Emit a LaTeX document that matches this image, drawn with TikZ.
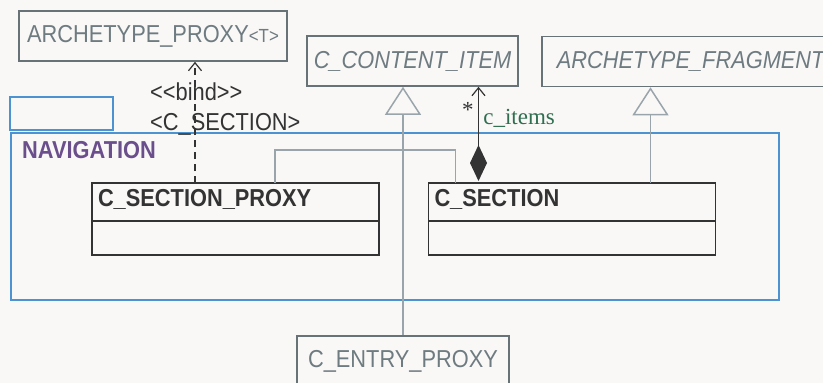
\documentclass[tikz,border=0pt]{standalone}
\usepackage{fontspec}
\usepackage{tikz}
\usetikzlibrary{arrows.meta,positioning,calc}

\newfontfamily\umlsans[FakeStretch=0.89]{Liberation Sans}
\newfontfamily\umlserif{Liberation Serif}
\newcommand\umlbig{\umlsans\fontsize{24.5}{28}\selectfont}
\newcommand\umlsmall{\umlsans\fontsize{19}{22}\selectfont}
\newcommand\umlrole{\umlserif\fontsize{23}{26}\selectfont}

\definecolor{paper}{HTML}{F9F8F7}
\definecolor{outline}{HTML}{687378}
\definecolor{outtext}{HTML}{6E7B80}
\definecolor{dark}{HTML}{333333}
\definecolor{pkgblue}{HTML}{4B93D1}
\definecolor{pkgname}{HTML}{6B4E8C}
\definecolor{genline}{HTML}{9AA5AB}
\definecolor{rolegreen}{HTML}{2F6E4F}

\tikzset{
  outer box/.style={draw=outline, line width=1.6pt, minimum height=50pt,
    font=\umlbig, text=outtext},
  class head/.style={draw=dark, line width=1.2pt, outer sep=0pt,
    text width=275pt, inner xsep=6pt, align=left, minimum height=38pt,
    text height=18pt, text depth=9pt, font=\umlbig\bfseries, text=dark},
  class body/.style={draw=dark, line width=1.2pt, outer sep=0pt,
    minimum width=287pt, minimum height=34pt},
  pkg box/.style={draw=pkgblue, line width=1.6pt},
  gen/.style={draw=genline, line width=1.5pt,
    -{Triangle[open, length=28pt, width=36pt, line width=1.5pt]}},
  gen tree/.style={draw=genline, line width=1.5pt},
  bind/.style={draw=dark, line width=1.6pt, dash pattern=on 7pt off 5pt,
    -{Straight Barb[length=8pt, width=13pt, line width=1.2pt]}},
  comp/.style={draw=dark, line width=1.6pt,
    {Diamond[length=36pt, width=17pt]}-{Straight Barb[length=8pt, width=13pt, line width=1.2pt]}}
}

\begin{document}
\begin{tikzpicture}[x=1pt, y=-1pt]
\clip (0,0) rectangle (823,383);
\fill [paper] (0,0) rectangle (823,383);

% classes outside the package
\node [outer box, minimum width=268pt] (archproxy) at (153,36)
  {ARCHETYPE\_PROXY{\umlsmall<T>}};
\node [outer box, minimum width=211pt, font=\umlbig\itshape] (ccontent) at (412.5,61)
  {C\_CONTENT\_ITEM};
\node [outer box, anchor=west, text width=285pt, inner xsep=15pt, align=left,
  font=\umlbig\itshape] (archfrag) at (541,61.5) {ARCHETYPE\_FRAGMENT};
\node [outer box, minimum width=212pt] (centry) at (403,361) {C\_ENTRY\_PROXY};

% package
\node [pkg box, minimum width=768pt, minimum height=167pt] (navpkg) at (395,216.5) {};
\node [pkg box, minimum width=103pt, minimum height=33pt] (navtab) at (61.5,113.5) {};
\node [anchor=base west, inner sep=0pt, font=\umlbig\bfseries, text=pkgname]
  (navname) at (22,158) {NAVIGATION};

% classes inside the package
\node [class head] (csproxy) at (235.5,202) {C\_SECTION\_PROXY};
\node [class body, below=0pt of csproxy] (csproxy-body) {};
\node [class head] (csection) at (572,202) {C\_SECTION};
\node [class body, below=0pt of csection] (csection-body) {};

\coordinate (genbar) at (403,150);
\coordinate (fragfoot) at ($(csection.north west)+(222,0)$);
\coordinate (compfoot) at ($(csection.north west)+(50,-2)$);
\coordinate (bindfoot) at ($(csproxy.north west)+(103,0)$);

% inheritance
\draw [gen] (centry.north) -- (centry.north |- ccontent.south);
\draw [gen tree] ($(csproxy.north west)+(183,0)$) |- (genbar)
  -| ($(csection.north west)+(27,0)$);
\draw [gen] (fragfoot) -- (fragfoot |- archfrag.south);

% composition
\draw [comp] (compfoot) -- (compfoot |- ccontent.south)
  node [pos=0.66, right, inner sep=4pt, font=\umlrole, text=rolegreen] (items-role) {c\_items}
  node [pos=0.75, left, inner sep=4pt, font=\umlrole, text=dark] (items-mult) {*};

% template binding
\draw [bind] (bindfoot) -- (bindfoot |- archproxy.south);
\node [anchor=base west, inner sep=0pt, font=\umlbig, text=dark]
  (bind-tag) at (150,100) {<\kern0pt<bind>\kern0pt>};
\node [anchor=base west, inner sep=0pt, font=\umlbig, text=dark]
  (bind-arg) at (150,130) {<C\_SECTION>};
\end{tikzpicture}
\end{document}
